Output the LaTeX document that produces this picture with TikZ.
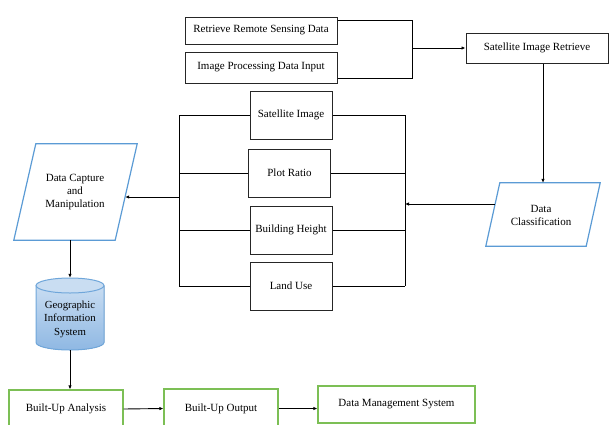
\documentclass[tikz,border=0pt]{standalone}
\usepackage{fontspec}
\setmainfont{Liberation Serif}
\usetikzlibrary{shapes.geometric,arrows.meta,calc}
\definecolor{lineblue}{HTML}{5B9BD5}
\definecolor{linegreen}{HTML}{7CBF55}
\definecolor{dbtop}{HTML}{C9DDF2}
\definecolor{dbbody}{HTML}{8FB8E3}
\definecolor{dbedge}{HTML}{6FA6DA}
\tikzset{
  box/.style={draw=black!85, line width=1pt, rectangle, align=center, inner sep=2pt, fill=white},
  midbox/.style={box, minimum width=82, minimum height=48},
  gbox/.style={draw=linegreen, line width=1.3pt, rectangle, align=center, fill=white},
  parabody/.style={rectangle, align=center, inner sep=0},
  paraedge/.style={draw=lineblue, line width=1.2pt, fill=white, line join=miter},
  link/.style={line width=0.9pt, black},
  arr/.style={link, -{Latex[length=4pt,width=3.5pt]}},
}
\begin{document}
\begin{tikzpicture}[x=1pt,y=-1pt,font=\fontsize{11}{13}\selectfont]
\useasboundingbox (0,0) rectangle (611,424);
\clip (0,0) rectangle (611,424);

% input boxes and retrieval
\node[box, minimum width=152, minimum height=27] (rrs) at (261,30.5) {Retrieve Remote Sensing Data};
\node[box, minimum width=152, minimum height=31] (ipd) at (261,67.5) {Image Processing Data Input};
\node[box, minimum width=142, minimum height=30] (sir) at (537,48) {Satellite Image Retrieve};

% parallelograms: outline drawn from the corners of the body node
\node[parabody, minimum width=114, minimum height=63] (dcl) at (543,214.5) {};
\draw[paraedge] ([xshift=14pt]dcl.north west) -- (dcl.north east)
  -- ([xshift=-14pt]dcl.south east) -- (dcl.south west) -- cycle;
\node[align=center, inner sep=0] (dcltext) at (541,215) {Data\\Classification};

\node[parabody, minimum width=123, minimum height=96] (dcap) at (75.5,192) {};
\draw[paraedge] ([xshift=22pt]dcap.north west) -- (dcap.north east)
  -- ([xshift=-22pt]dcap.south east) -- (dcap.south west) -- cycle;
\node[align=center, inner sep=0] (dcaptext) at (75,192.5) {Data Capture\\and\\Manipulation};

% attribute boxes
\node[midbox] (sat)  at (291,115)   {Satellite Image};
\node[midbox] (plot) at (289.5,173) {Plot Ratio};
\node[midbox] (bld)  at (291,230)   {Building Height};
\node[midbox] (land) at (291,286)   {Land Use};

% database cylinder
\fill[top color=dbtop, bottom color=dbbody] (36,285.5) -- (36,342.5)
  .. controls (36,346.6) and (51.2,350) .. (70,350)
  .. controls (88.8,350) and (104,346.6) .. (104,342.5) -- (104,285.5) -- cycle;
\draw[dbedge, line width=1pt] (36,285.5) -- (36,342.5)
  .. controls (36,346.6) and (51.2,350) .. (70,350)
  .. controls (88.8,350) and (104,346.6) .. (104,342.5) -- (104,285.5);
\draw[dbedge, line width=1pt, fill=dbtop] (70,285.5) ellipse [x radius=34, y radius=7.5];
\node[minimum width=68, minimum height=72, inner sep=0] (gis) at (70,314) {};
\node[align=center, inner sep=0, font=\fontsize{10.8}{13.5}\selectfont] (gistext) at (70,319) {Geographic\\Information\\System};

% output boxes
\node[gbox, minimum width=114, minimum height=38] (ba)  at (66,409)    {Built-Up Analysis};
\node[gbox, minimum width=114, minimum height=39] (bo)  at (221,408.5) {Built-Up Output};
\node[gbox, minimum width=157, minimum height=37] (dms) at (396.5,404.5) {Data Management System};

% retrieval connectors
\coordinate (jn) at (412,48);
\draw[link] ([yshift=-4pt]rrs.north east) -| (jn);
\draw[link] ([yshift=5pt]ipd.south east) -| (jn);
\draw[arr] (jn) -- (sir.west);
\draw[arr] (sir.south -| dcl.north) -- (dcl.north);

% buses on both sides of the attribute boxes
\coordinate (lb) at (179,0);
\coordinate (rb) at (405,0);
\foreach \n in {sat,plot,bld,land}{
  \draw[link] (\n.west) -- (\n.west -| lb);
  \draw[link] (\n.east) -- (\n.east -| rb);
}
\draw[link] (sat.west -| lb) -- (land.west -| lb);
\draw[link] (sat.east -| rb) -- (land.east -| rb);

\coordinate (y204) at (0,204);
\coordinate (y197) at (0,197);
\draw[arr] ([xshift=9pt]dcl.west |- y204) -- (rb |- y204);
\draw[arr] (lb |- y197) -- ([xshift=-12pt]dcap.east |- y197);

% lower chain
\draw[arr] (gis.north |- dcap.south) -- (gis.north);
\draw[arr] (gis.south) -- (gis.south |- ba.north);
\draw[arr] (ba.east) -- (bo.west);
\draw[arr] (bo.east) -- (bo.east -| dms.west);
\end{tikzpicture}
\end{document}
